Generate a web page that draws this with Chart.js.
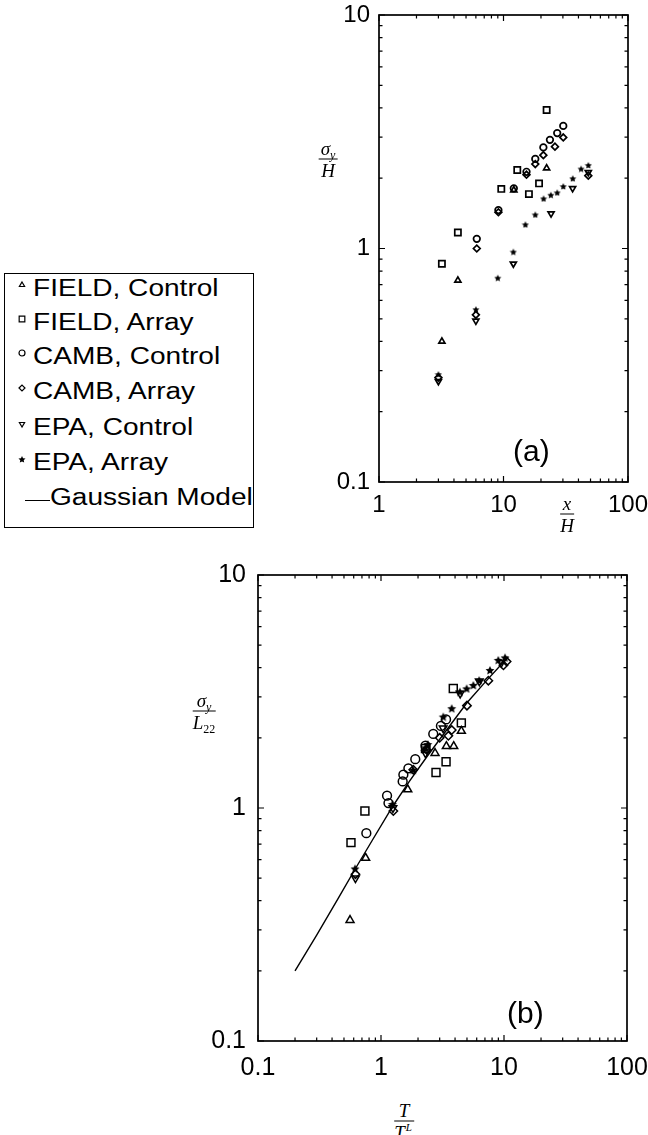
<!DOCTYPE html>
<html>
<head>
<meta charset="utf-8">
<title>Lateral plume spread</title>
<script src="https://cdn.jsdelivr.net/npm/chart.js@4.4.1/dist/chart.umd.min.js"></script>
<style>
  html, body { margin: 0; padding: 0; background: #fff; }
  body { position: relative; width: 648px; height: 1135px; overflow: hidden;
         font-family: "Liberation Sans", Arial, sans-serif; color: #000; }
  .plot { position: absolute; }
  #legendBox { position: absolute; left: 4px; top: 273px; width: 250px; height: 255px;
               border: 1.6px solid #000; box-sizing: border-box; }
  .item { position: absolute; left: 33px; font-size: 23px; line-height: 23px; white-space: nowrap;
          transform: scaleX(1.22); transform-origin: left center; }
  .mark { position: absolute; }
  .frac { position: absolute; transform: translate(-50%, -50%); text-align: center;
          font-family: "Liberation Serif", "DejaVu Serif", serif; font-style: italic;
          font-size: 19px; line-height: 19px; white-space: nowrap; }
  .frac .num { display: block; border-bottom: 1.2px solid #000; padding: 0 2px 1px; }
  .frac .den { display: block; padding-top: 1px; }
  .frac sub { font-size: 12px; vertical-align: -4px; line-height: 0; }
  .scripts { display: inline-block; position: relative; width: 9px; height: 19px; vertical-align: top;
             font-size: 11px; line-height: 11px; }
  .scripts span { position: absolute; left: 1px; }
  .panel { position: absolute; font-size: 30px; line-height: 30px; }
</style>
</head>
<body>

<div class="plot" style="left:300px; top:0px;"><canvas id="chartA" width="348" height="530"></canvas></div>
<div class="plot" style="left:160px; top:560px;"><canvas id="chartB" width="488" height="530"></canvas></div>

<div id="legendBox"></div>
<div id="legendItems"></div>

<div class="frac" style="left:328px; top:159px;"><span class="num">σ<sub>y</sub></span><span class="den">H</span></div>
<div class="frac" style="left:567px; top:514px;"><span class="num">x</span><span class="den">H</span></div>
<div class="frac" style="left:204px; top:711px;"><span class="num">σ<sub>y</sub></span><span class="den">L<sub style="font-style:normal">22</sub></span></div>
<div class="frac" style="left:404px; top:1121px;"><span class="num">T</span><span class="den">T<span class="scripts"><span style="top:-1px;">L</span><span style="top:11px;">i</span></span></span></div>

<div class="panel" style="left:513px; top:436px;">(a)</div>
<div class="panel" style="left:507px; top:998px;">(b)</div>

<script>
// tick positions for both panels
const xTicksA = [1, 10, 100];
const yTicksA = [0.1, 1, 10];
const xTicksB = [0.1, 1, 10, 100];
const yTicksB = [0.1, 1, 10];

const seriesNames = ['FIELD, Control', 'FIELD, Array', 'CAMB, Control', 'CAMB, Array', 'EPA, Control', 'EPA, Array'];
const lineName = 'Gaussian Model';

// panel (a): sigma_y / H against x / H
const fieldControlA = [[3.2, 0.40], [4.3, 0.73], [12.1, 1.78], [22.2, 2.21]];
const fieldArrayA = [[3.2, 0.86], [4.3, 1.17], [9.6, 1.80], [12.9, 2.17], [16.0, 1.71], [19.3, 1.90], [22.2, 3.92]];
const cambControlA = [[6.1, 1.10], [9.1, 1.46], [12.1, 1.81], [15.3, 2.13], [18.0, 2.42], [20.9, 2.71], [23.6, 2.92], [27.0, 3.12], [30.2, 3.35]];
const cambArrayA = [[3.0, 0.28], [6.0, 0.52], [6.1, 1.00], [9.1, 1.43], [15.3, 2.07], [18.0, 2.30], [20.9, 2.51], [25.9, 2.73], [30.2, 2.99], [48.0, 2.05]];
const epaControlA = [[3.0, 0.27], [6.0, 0.49], [12.0, 0.86], [24.1, 1.41], [35.9, 1.81], [48.0, 2.12]];
const epaArrayA = [[3.0, 0.29], [6.0, 0.55], [9.0, 0.75], [12.0, 0.97], [15.0, 1.27], [18.0, 1.40], [21.0, 1.64], [24.0, 1.70], [27.0, 1.74], [30.2, 1.85], [36.0, 2.00], [42.0, 2.20], [48.0, 2.28]];

// panel (b): sigma_y / L22 against T / T_i^L
const fieldControlB = [[0.56, 0.33], [0.75, 0.61], [1.65, 1.20], [2.75, 1.72], [3.4, 1.84], [3.9, 1.84], [4.5, 2.14]];
const fieldArrayB = [[0.57, 0.71], [0.74, 0.97], [2.8, 1.42], [3.38, 1.58], [3.87, 3.26], [4.5, 2.32], [2.3, 1.80]];
const cambControlB = [[0.76, 0.78], [1.12, 1.13], [1.15, 1.05], [1.50, 1.30], [1.52, 1.39], [1.67, 1.48], [1.90, 1.62], [2.30, 1.85], [2.66, 2.08], [3.07, 2.25], [3.38, 2.40]];
const cambArrayB = [[0.62, 0.52], [1.26, 0.97], [1.83, 1.46], [2.35, 1.78], [3.0, 2.00], [3.53, 2.04], [3.76, 2.16], [5.0, 2.75], [7.46, 3.52], [9.9, 4.10], [10.5, 4.25]];
const epaControlB = [[0.62, 0.50], [1.25, 1.00], [2.3, 1.72], [3.2, 2.20], [4.4, 3.10], [6.3, 3.50], [9.5, 4.20]];
const epaArrayB = [[0.615, 0.55], [1.24, 1.04], [1.83, 1.46], [2.3, 1.82], [2.4, 1.88], [3.21, 2.47], [3.76, 2.68], [4.38, 3.16], [4.97, 3.26], [5.63, 3.37], [6.28, 3.54], [7.69, 3.91], [8.99, 4.32], [10.2, 4.43]];
const gaussianModel = [[0.2, 0.200], [0.3, 0.285], [0.45, 0.410], [0.62, 0.550], [0.85, 0.727], [1.25, 1.020], [1.7, 1.300], [2.4, 1.680], [3.5, 2.200], [5.0, 2.830], [7.0, 3.460], [10.8, 4.450]];

const seriesA = [fieldControlA, fieldArrayA, cambControlA, cambArrayA, epaControlA, epaArrayA];
const seriesB = [fieldControlB, fieldArrayB, cambControlB, cambArrayB, epaControlB, epaArrayB];

// filled five-point star, used as an image point style
function starCanvas(size) {
  const c = document.createElement('canvas');
  c.width = c.height = size;
  const g = c.getContext('2d');
  const r = size / 2;
  g.beginPath();
  for (let i = 0; i < 10; i++) {
    const rad = i % 2 ? r * 0.45 : r - 0.3;
    const ang = -Math.PI / 2 + i * Math.PI / 5;
    g.lineTo(r + rad * Math.cos(ang), r + 0.6 + rad * Math.sin(ang));
  }
  g.closePath();
  g.fillStyle = '#000';
  g.fill();
  return c;
}

// marker style per series: [pointStyle, rotation, radius in (a), radius in (b)]
const markers = [
  ['triangle', 0, 3.5, 4.6],
  ['rect', 0, 4.4, 5.6],
  ['circle', 0, 3.3, 4.4],
  ['rectRot', 0, 3.4, 4.2],
  ['triangle', 180, 3.5, 4.4],
  ['star', 0, 8, 10]
];

function scatterSet(points, k, big) {
  const m = markers[k];
  const isStar = m[0] === 'star';
  return {
    label: seriesNames[k],
    data: points.map(p => ({ x: p[0], y: p[1] })),
    showLine: false,
    pointStyle: isStar ? starCanvas(big ? m[3] : m[2]) : m[0],
    pointRotation: m[1],
    pointRadius: big ? m[3] : m[2],
    pointHoverRadius: big ? m[3] : m[2],
    pointBorderColor: '#000',
    pointBackgroundColor: 'rgba(0,0,0,0)',
    pointBorderWidth: big ? 1.5 : 1.7,
    order: 1
  };
}

function logAxis(min, max, values, fit, fontSize, pad, isX) {
  return {
    type: 'logarithmic', min: min, max: max,
    afterBuildTicks: s => { s.ticks = values.map(v => ({ value: v, major: true })); },
    afterFit: s => {
      if (isX) { s.height = fit; s.paddingLeft = 0; s.paddingRight = 0; }
      else { s.width = fit; s.paddingTop = 0; s.paddingBottom = 0; }
    },
    ticks: {
      callback: v => String(v), color: '#000', padding: pad, autoSkip: false, maxRotation: 0,
      font: { family: '"Liberation Sans", Arial, sans-serif', size: fontSize }
    },
    grid: { display: false, drawTicks: false },
    border: { display: false }
  };
}

function logSteps(min, max) {
  const out = [];
  for (let e = Math.round(Math.log10(min)); e < Math.round(Math.log10(max)); e++) {
    for (let d = 1; d < 10; d++) out.push([d * Math.pow(10, e), d === 1]);
  }
  out.push([max, true]);
  return out;
}

// box round the plot with inward ticks on all four sides
const frameTicks = {
  id: 'frameTicks',
  afterDraw(chart) {
    const ctx = chart.ctx, a = chart.chartArea, x = chart.scales.x, y = chart.scales.y;
    ctx.save();
    ctx.strokeStyle = '#000';
    ctx.lineWidth = 1.2;
    ctx.beginPath();
    logSteps(x.min, x.max).forEach(([v, major]) => {
      const px = x.getPixelForValue(v), len = major ? 6 : 3.5;
      ctx.moveTo(px, a.bottom); ctx.lineTo(px, a.bottom - len);
      ctx.moveTo(px, a.top); ctx.lineTo(px, a.top + len);
    });
    logSteps(y.min, y.max).forEach(([v, major]) => {
      const py = y.getPixelForValue(v), len = major ? 6 : 3.5;
      ctx.moveTo(a.left, py); ctx.lineTo(a.left + len, py);
      ctx.moveTo(a.right, py); ctx.lineTo(a.right - len, py);
    });
    ctx.stroke();
    ctx.lineWidth = 1.7;
    ctx.strokeRect(a.left, a.top, a.right - a.left, a.bottom - a.top);
    ctx.restore();
  }
};

const common = {
  responsive: false,
  animation: false,
  plugins: { legend: { display: false }, tooltip: { enabled: false } }
};

new Chart(document.getElementById('chartA'), {
  type: 'scatter',
  data: { datasets: seriesA.map((s, k) => scatterSet(s, k, false)) },
  options: Object.assign({}, common, {
    layout: { padding: { top: 15, right: 20, left: 0, bottom: 0 } },
    scales: {
      x: logAxis(1, 100, xTicksA, 48, 24, 9, true),
      y: logAxis(0.1, 10, yTicksA, 79, 24, 9, false)
    }
  }),
  plugins: [frameTicks]
});

const dsB = seriesB.map((s, k) => scatterSet(s, k, true));
dsB.push({
  label: lineName,
  data: gaussianModel.map(p => ({ x: p[0], y: p[1] })),
  showLine: true, borderColor: '#000', borderWidth: 1.4, pointRadius: 0, pointHoverRadius: 0,
  tension: 0, order: 2
});

new Chart(document.getElementById('chartB'), {
  type: 'scatter',
  data: { datasets: dsB },
  options: Object.assign({}, common, {
    layout: { padding: { top: 15, right: 21, left: 0, bottom: 0 } },
    scales: {
      x: logAxis(0.1, 100, xTicksB, 49, 25, 12, true),
      y: logAxis(0.1, 10, yTicksB, 98, 25, 12, false)
    }
  }),
  plugins: [frameTicks]
});

// legend: same point styles as the charts, drawn by Chart.js helpers
const legendItems = document.getElementById('legendItems');
const baselines = [296, 330, 364, 399, 435, 470, 505];
seriesNames.concat([lineName]).forEach((name, i) => {
  const t = document.createElement('div');
  t.className = 'item';
  t.textContent = name;
  t.style.top = (baselines[i] - 19.5) + 'px';
  if (i < markers.length) {
    const c = document.createElement('canvas');
    c.width = c.height = 12;
    c.className = 'mark';
    c.style.left = '16px';
    c.style.top = (baselines[i] - 11 - 6) + 'px';
    const g = c.getContext('2d');
    g.strokeStyle = '#000';
    g.fillStyle = 'rgba(0,0,0,0)';
    g.lineWidth = 1.2;
    const m = markers[i];
    const style = m[0] === 'star' ? starCanvas(8) : m[0];
    Chart.helpers.drawPoint(g, { pointStyle: style, rotation: m[1], radius: m[0] === 'rect' ? 4 : 3, borderWidth: 1.2 }, 6, 6);
    legendItems.appendChild(c);
  } else {
    t.style.left = '50px';
    const dash = document.createElement('div');
    dash.style.cssText = 'position:absolute; left:25px; top:' + (baselines[i] - 5) + 'px; width:25px; height:0; border-top:1.4px solid #000;';
    legendItems.appendChild(dash);
  }
  legendItems.appendChild(t);
});
</script>
</body>
</html>
